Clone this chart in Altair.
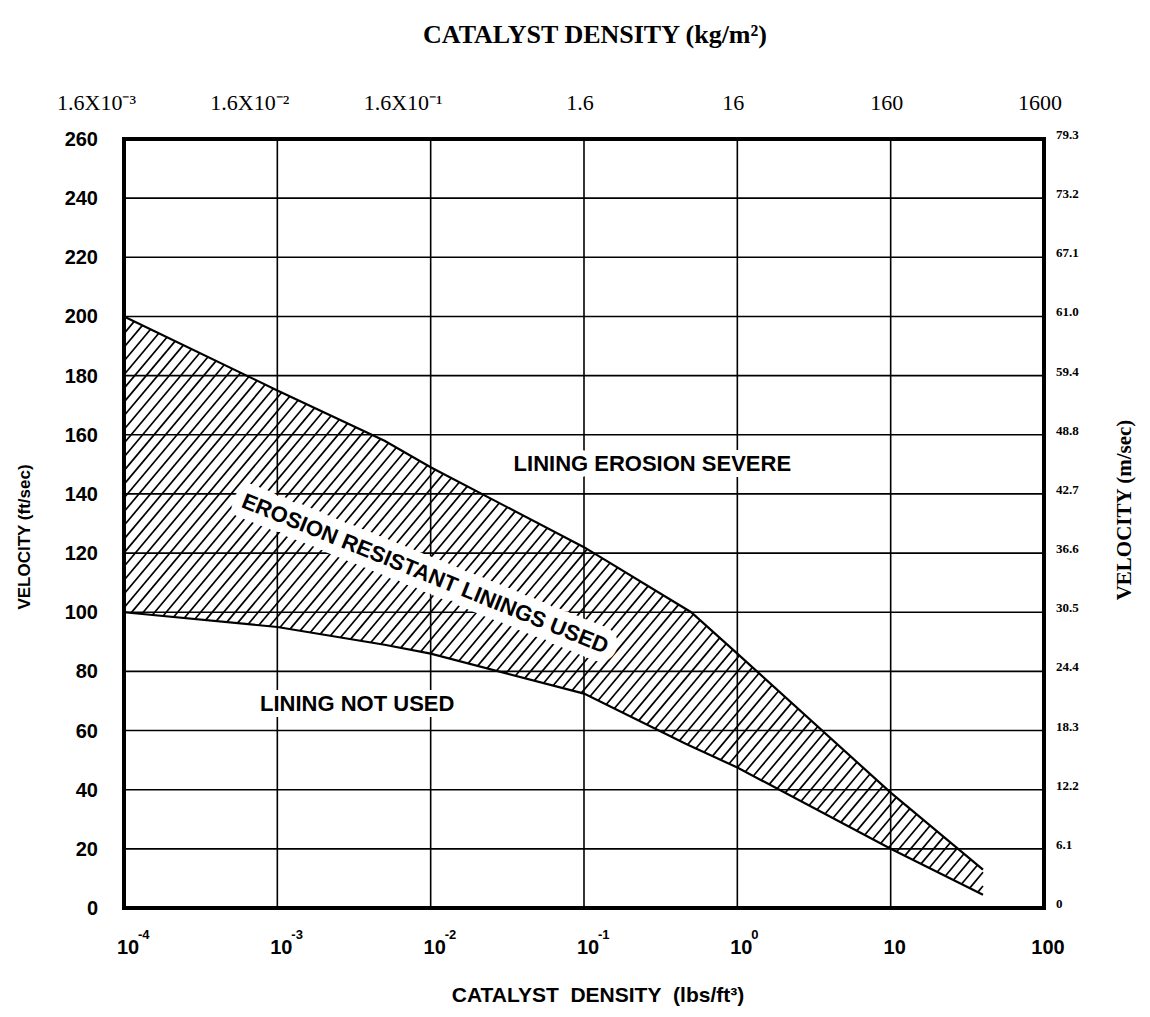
import altair as alt
import numpy as np
import pandas as pd

# ---------------- data ----------------
x_ticks = [1e-4, 1e-3, 1e-2, 1e-1, 1, 10, 100]
bottom_base = ["10", "10", "10", "10", "10", "10", "100"]
bottom_exp = ["-4", "-3", "-2", "-1", "0", "", ""]
top_labels = ["1.6X10\u207b\u00b3", "1.6X10\u207b\u00b2", "1.6X10\u207b\u00b9", "1.6", "16", "160", "1600"]
y_ticks = [0, 20, 40, 60, 80, 100, 120, 140, 160, 180, 200, 220, 240, 260]
left_labels = [str(v) for v in y_ticks]
right_labels = ["0", "6.1", "12.2", "18.3", "24.4", "30.5", "36.6", "42.7",
                "48.8", "59.4", "61.0", "67.1", "73.2", "79.3"]

upper_x = [1e-4, 1e-3, 5e-3, 1e-2, 1e-1, 0.5, 1, 10, 40]
upper_v = [200, 175, 158, 149, 122, 100, 86, 39, 13]
lower_x = [1e-4, 1e-3, 5e-3, 1e-2, 1e-1, 0.46, 1, 10, 40]
lower_v = [100, 95, 89, 86, 72.5, 55.5, 47.5, 20, 4.5]

region_labels = ["LINING EROSION SEVERE", "LINING NOT USED"]
region_x = [0.279, 0.00332]
region_y = [150, 69]
band_label = ["EROSION RESISTANT LININGS USED"]
band_x = [0.0092]
band_y = [113]

# ---------------- layout ----------------
W, H = 920, 769
LEFT, TOP = 124, 139
SANS = "Liberation Sans"
SERIF = "Liberation Serif"

xs = alt.Scale(type="log", domain=[1e-4, 100], nice=False)
ys = alt.Scale(domain=[0, 260], nice=False, zero=False)


def X(f):
    return alt.X(f, scale=xs, axis=None)


def Y(f):
    return alt.Y(f, scale=ys, axis=None)


# ---------------- hatch segments computed from the boundaries ----------------
ppd = W / 6.0
ppv = H / 260.0
k = np.tan(np.deg2rad(50))
step = 11.5
lu_up = np.log10(upper_x)
lu_lo = np.log10(lower_x)
u0 = max(lu_up[0], lu_lo[0])
u1 = min(lu_up[-1], lu_lo[-1])
uu = np.linspace(u0, u1, 40001)
vu = np.interp(uu, lu_up, upper_v)
vl = np.interp(uu, lu_lo, lower_v)
c_min = ppv * min(lower_v) - k * ppd * (u1 - u0) - 5
c_max = ppv * max(upper_v) + 5
rows = []
for c in np.arange(c_min, c_max, k * step):
    vline = (k * ppd * (uu - u0) + c) / ppv
    idx = np.nonzero((vline >= vl) & (vline <= vu))[0]
    if len(idx) < 2:
        continue
    a, b = idx[0], idx[-1]
    rows.append({"x1": 10 ** uu[a], "y1": vline[a], "x2": 10 ** uu[b], "y2": vline[b]})
hatch_df = pd.DataFrame(rows)

bdf = pd.concat([
    pd.DataFrame({"x": upper_x, "y": upper_v, "s": "upper", "i": range(len(upper_x))}),
    pd.DataFrame({"x": lower_x, "y": lower_v, "s": "lower", "i": range(len(lower_x))}),
])

# ---------------- layers ----------------
vgrid = alt.Chart(pd.DataFrame({"x": x_ticks})).mark_rule(color="black", strokeWidth=1.6).encode(
    x=X("x:Q"), y=alt.value(0), y2=alt.value(H))
hgrid = alt.Chart(pd.DataFrame({"y": y_ticks})).mark_rule(color="black", strokeWidth=1.6).encode(
    y=Y("y:Q"), x=alt.value(0), x2=alt.value(W))

hatch = alt.Chart(hatch_df).mark_rule(color="black", strokeWidth=1.7).encode(
    x=X("x1:Q"), x2="x2:Q", y=Y("y1:Q"), y2="y2:Q")

band_df = pd.DataFrame({"x": band_x, "y": band_y, "t": band_label})
band_halo = alt.Chart(band_df).mark_text(
    font=SANS, fontWeight="bold", fontSize=22, angle=22, fill="white",
    stroke="white", strokeWidth=20, strokeJoin="round"
).encode(x=X("x:Q"), y=Y("y:Q"), text="t:N")
band_text = alt.Chart(band_df).mark_text(
    font=SANS, fontWeight="bold", fontSize=22, angle=22, color="black"
).encode(x=X("x:Q"), y=Y("y:Q"), text="t:N")

reg_df = pd.DataFrame({"x": region_x, "y": region_y, "t": region_labels})
reg_halo = alt.Chart(reg_df).mark_text(
    font=SANS, fontWeight="bold", fontSize=22, fill="white", stroke="white", strokeWidth=12
).encode(x=X("x:Q"), y=Y("y:Q"), text="t:N")
reg_text = alt.Chart(reg_df).mark_text(
    font=SANS, fontWeight="bold", fontSize=22, color="black"
).encode(x=X("x:Q"), y=Y("y:Q"), text="t:N")

bounds = alt.Chart(bdf).mark_line(color="black", strokeWidth=2.2).encode(
    x=X("x:Q"), y=Y("y:Q"), detail="s:N", order="i:Q")

# left tick labels (ft/sec)
lt_df = pd.DataFrame({"y": y_ticks, "t": left_labels})
left_lab = alt.Chart(lt_df).mark_text(
    font=SANS, fontWeight="bold", fontSize=20, color="black", align="right", baseline="middle", dy=1
).encode(x=alt.value(-26), y=Y("y:Q"), text="t:N")

# bottom tick labels (10 with superscript exponent)
bt_df = pd.DataFrame({"x": x_ticks, "b": bottom_base, "e": bottom_exp})
bot_base = alt.Chart(bt_df).mark_text(
    font=SANS, fontWeight="bold", fontSize=20, color="black", baseline="middle", dx=4
).encode(x=X("x:Q"), y=alt.value(H + 40), text="b:N")
bot_exp = alt.Chart(bt_df).mark_text(
    font=SANS, fontWeight="bold", fontSize=13, color="black", align="left", baseline="middle", dx=14
).encode(x=X("x:Q"), y=alt.value(H + 27), text="e:N")

# top tick labels (kg/m3)
tp_df = pd.DataFrame({"x": x_ticks, "t": top_labels})
top_r = alt.Chart(tp_df.iloc[:3]).mark_text(
    font=SERIF, fontSize=22, color="black", align="right", baseline="middle", dx=12
).encode(x=X("x:Q"), y=alt.value(-36), text="t:N")
top_c = alt.Chart(tp_df.iloc[3:]).mark_text(
    font=SERIF, fontSize=22, color="black", align="center", baseline="middle", dx=-4
).encode(x=X("x:Q"), y=alt.value(-36), text="t:N")

# right tick labels (m/sec)
rt_df = pd.DataFrame({"y": y_ticks, "t": right_labels})
right_lab = alt.Chart(rt_df).mark_text(
    font=SERIF, fontWeight="bold", fontSize=13, color="black", align="left", baseline="middle", dy=-4
).encode(x=alt.value(W + 12), y=Y("y:Q"), text="t:N")


def title(txt, x, y, font, size, angle=0):
    return alt.Chart(pd.DataFrame({"t": [txt]})).mark_text(
        font=font, fontWeight="bold", fontSize=size, color="black", angle=angle,
        align="center", baseline="middle"
    ).encode(x=alt.value(x), y=alt.value(y), text="t:N")


t_top = title("CATALYST DENSITY (kg/m\u00b2)", 471, -104, SERIF, 26)
t_bot = title("CATALYST\u00a0\u00a0DENSITY\u00a0\u00a0(lbs/ft\u00b3)", 474, H + 88, SANS, 21)
t_left = title("VELOCITY (ft/sec)", -99, 398, SANS, 17, 270)
t_right = title("VELOCITY (m/sec)", W + 81, 371, SERIF, 21, 270)

chart = alt.layer(
    vgrid, hgrid, hatch, band_halo, reg_halo, bounds, band_text, reg_text,
    left_lab, bot_base, bot_exp, top_r, top_c, right_lab, t_top, t_bot, t_left, t_right
).properties(
    width=W, height=H,
    autosize=alt.AutoSizeParams(type="none"),
    padding={"left": LEFT, "top": TOP, "right": 1150 - LEFT - W, "bottom": 1017 - TOP - H},
    background="white",
).configure_view(stroke="black", strokeWidth=4)

chart.save("out.html", embed_options={"renderer": "svg", "actions": False})
